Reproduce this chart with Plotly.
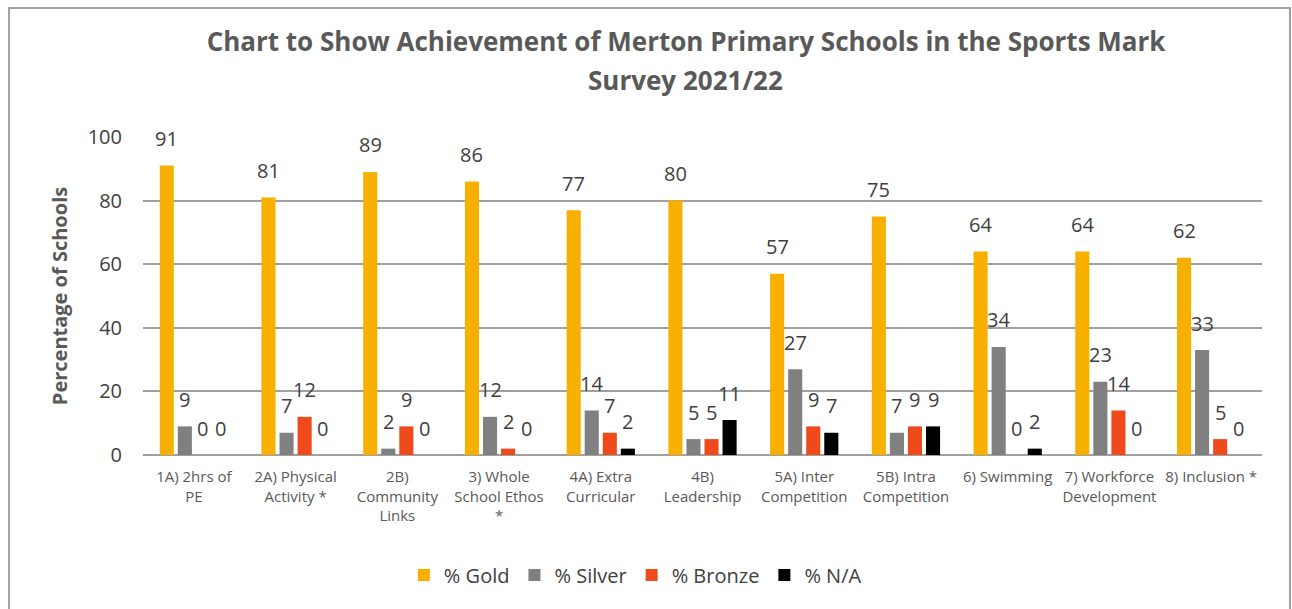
import plotly.graph_objects as go

categories = ["1A) 2hrs of<br>PE", "2A) Physical<br>Activity *", "2B)<br>Community<br>Links",
              "3) Whole<br>School Ethos<br>*", "4A) Extra<br>Curricular", "4B)<br>Leadership",
              "5A) Inter<br>Competition", "5B) Intra<br>Competition", "6) Swimming",
              "7) Workforce<br>Development", "8) Inclusion *"]
gold = [91, 81, 89, 86, 77, 80, 57, 75, 64, 64, 62]
silver = [9, 7, 2, 12, 14, 5, 27, 7, 34, 23, 33]
bronze = [0, 12, 9, 2, 7, 5, 9, 9, 0, 14, 5]
na = [0, 0, 0, 0, 2, 11, 7, 9, 2, 0, 0]

series = [("% Gold", gold, "#F8B000"), ("% Silver", silver, "#808080"),
          ("% Bronze", bronze, "#EE4A1B"), ("% N/A", na, "#000000")]

FONT = "Open Sans, Lato, sans-serif"
bargap = 0.29
bargroupgap = 0.22

fig = go.Figure()
idx = list(range(len(categories)))
for name, vals, col in series:
    fig.add_trace(go.Bar(x=idx, y=vals, name=name, marker=dict(color=col, line=dict(width=0))))

# data labels
n = len(series)
slot = (1 - bargap) / n
for s, (name, vals, col) in enumerate(series):
    for i, v in enumerate(vals):
        fig.add_annotation(x=i - (1 - bargap) / 2 + slot * (s + 0.5), y=v, xref="x", yref="y",
                           text=str(v), showarrow=False, yanchor="middle", yshift=27,
                           font=dict(family=FONT, size=20, color="#404040"))

fig.add_annotation(text="<b>Survey 2021/22</b>", xref="paper", yref="paper", x=0.485, y=1.179,
                   showarrow=False, xanchor="center", yanchor="middle",
                   font=dict(family=FONT, size=26, color="#595959"))

# outer border
fig.add_shape(type="rect", xref="paper", yref="paper", x0=-0.1197, x1=1.025, y0=-0.6, y1=1.4057,
              line=dict(color="#A0A0A0", width=2), fillcolor="rgba(0,0,0,0)", layer="below")

fig.update_layout(
    width=1292, height=609,
    margin=dict(l=143, r=30, t=137, b=154),
    paper_bgcolor="white", plot_bgcolor="white",
    barmode="group", bargap=bargap, bargroupgap=bargroupgap,
    title=dict(text="<b>Chart to Show Achievement of Merton Primary Schools in the Sports Mark</b>",
               x=0.531, y=1 - 42 / 609, xanchor="center", yanchor="middle",
               font=dict(family=FONT, size=26, color="#595959")),
    font=dict(family=FONT, color="#595959"),
    showlegend=True,
    legend=dict(orientation="h", x=0.44, y=-0.377, xanchor="center", yanchor="middle",
                font=dict(family=FONT, size=20, color="#404040"), traceorder="normal"),
    xaxis=dict(tickmode="array", tickvals=idx, ticktext=categories, range=[-0.5, len(categories) - 0.5],
               showgrid=False, zeroline=False, showline=False, ticks="",
               tickfont=dict(family=FONT, size=15, color="#595959"), ticklabelstandoff=11),
    yaxis=dict(range=[0, 100], tickvals=[0, 20, 40, 60, 80, 100], showgrid=True,
               gridcolor="#A0A0A0", gridwidth=1.5, zeroline=True, zerolinecolor="#A0A0A0", zerolinewidth=1.5,
               showline=False, ticks="", ticklabelstandoff=20,
               tickfont=dict(family=FONT, size=20, color="#404040"),
               title=dict(text="<b>Percentage of Schools</b>", standoff=14,
                          font=dict(family=FONT, size=20, color="#595959"))),
)

fig.write_html("out.html")
